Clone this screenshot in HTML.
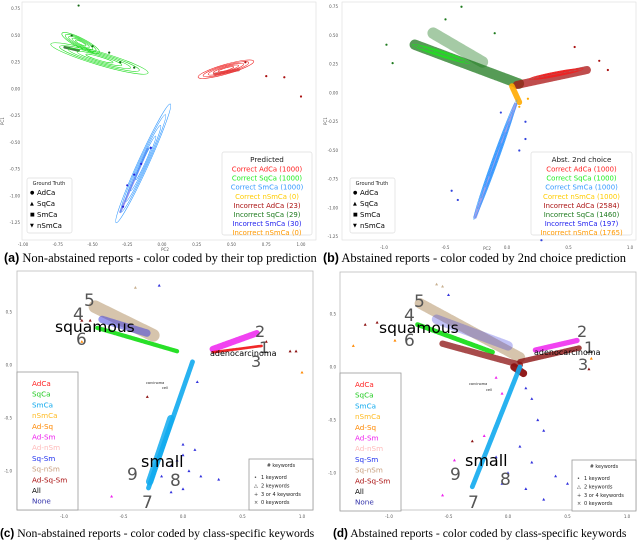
<!DOCTYPE html>
<html><head><meta charset="utf-8">
<style>
html,body{margin:0;padding:0;background:#fff;}
svg{display:block;font-family:"DejaVu Sans","Liberation Sans",sans-serif;}
.cap{font-family:"Liberation Serif",serif;font-size:12.5px;fill:#000;}
.cap2{font-family:"Liberation Serif",serif;font-size:11.7px;fill:#000;}
.capb{font-family:"Liberation Sans",sans-serif;font-weight:bold;}
.tick{font-size:4px;fill:#555;}
</style></head>
<body>
<svg id="fig" width="640" height="541" viewBox="0 0 640 541" xmlns="http://www.w3.org/2000/svg">
  <g id="pa">
    <rect x="22" y="2" width="294" height="238" fill="#fff" stroke="#ddd" stroke-width="0.6"/>
  </g>
  <g id="pb">
    <rect x="342" y="2" width="294" height="238" fill="#fff" stroke="#ddd" stroke-width="0.6"/>
  </g>
  <g id="pc">
    <rect x="17" y="271" width="296" height="239" fill="#fff" stroke="#bbb" stroke-width="0.8"/>
  </g>
  <g id="pd">
    <rect x="340" y="272" width="296" height="238" fill="#fff" stroke="#bbb" stroke-width="0.8"/>
  </g>
  <text class="cap" x="4" y="262"><tspan class="capb">(a)</tspan> Non-abstained reports - color coded by their top prediction</text>
  <text class="cap" x="323" y="262"><tspan class="capb">(b)</tspan> Abstained reports - color coded by 2nd choice prediction</text>
  <text class="cap2" x="0" y="537"><tspan class="capb">(c)</tspan> Non-abstained reports - color coded by class-specific keywords</text>
  <text class="cap2" x="333" y="537"><tspan class="capb">(d)</tspan> Abstained reports - color coded by class-specific keywords</text>
</svg>
<script>
const NS="http://www.w3.org/2000/svg";
// ---- data arrays ----
const ticksA_x=["-1.00","-0.75","-0.50","-0.25","0.00","0.25","0.50","0.75","1.00"];
const ticksA_y=["0.75","0.50","0.25","0.00","-0.25","-0.50","-0.75","-1.00","-1.25"];
const ticksB_x=["-1.0","-0.5","0.0","0.5","1.0"];
const ticksB_y=["0.75","0.50","0.25","0.00","-0.25","-0.50","-0.75","-1.00","-1.25"];
const ticksCD_x=["-1.0","-0.5","0.0","0.5","1.0"];
const ticksCD_y=["0.5","0.0","-0.5","-1.0"];
// contours: [x1,y1,x2,y2,width,color]
const contoursA=[[-0.8,0.42,-0.1,0.15,0.12,"#22dd22"],[-0.72,0.52,-0.45,0.34,0.09,"#22dd22"],[0.26,0.11,0.66,0.26,0.09,"#ee2222"],[-0.33,-1.25,0.06,-0.14,0.1,"#3399ff"]];
const contoursB=[[-0.77,0.42,-0.3,0.26,0.05,"#22dd22"],[0.18,0.12,0.62,0.21,0.04,"#ee2222"],[-0.27,-1.1,0.08,-0.06,0.05,"#3399ff"]];
// dense clouds: [x1,y1,x2,y2,width,color,opacity]
const bandsA=[[-0.7,0.39,-0.6,0.36,0.025,"#116611",0.8],[0.38,0.14,0.55,0.18,0.03,"#aa1111",0.5],[-0.3,-1.15,-0.1,-0.55,0.02,"#2222dd",0.5]];
const bandsB=[[-0.75,0.42,0.1,0.08,0.09,"#1d7a1d",0.75],[-0.6,0.52,-0.2,0.27,0.1,"#1d7a1d",0.4],[0.08,0.07,0.65,0.2,0.07,"#aa1111",0.75],[0.04,0.06,0.1,-0.08,0.05,"#ffaa00",0.9],[0.07,-0.1,-0.26,-1.08,0.03,"#3344dd",0.5]];
const bandsC=[[-0.74,0.55,-0.25,0.28,0.12,"#c8b090",0.75],[-0.68,0.43,-0.3,0.3,0.07,"#3333dd",0.5],[-0.72,0.35,-0.05,0.13,0.04,"#11dd11",0.9],[0.25,0.15,0.62,0.3,0.06,"#ee22ee",0.85],[0.25,0.12,0.66,0.18,0.025,"#ee1111",0.9],[-0.29,-1.16,0.08,0.03,0.045,"#11aaee",0.9],[-0.28,-1.1,-0.1,-0.5,0.07,"#11aaee",0.85]];
const bandsD=[[-0.74,0.6,0.1,0.09,0.1,"#c8b090",0.75],[-0.6,0.45,0.0,0.2,0.09,"#3333dd",0.3],[-0.76,0.4,-0.13,0.14,0.045,"#11dd11",0.9],[-0.55,0.22,0.1,0.02,0.06,"#8b1010",0.75],[0.1,0.05,0.6,0.18,0.05,"#8b1010",0.8],[0.05,0.0,0.13,-0.06,0.07,"#8b1010",0.95],[0.23,0.16,0.58,0.25,0.05,"#ee22ee",0.85],[-0.3,-1.13,0.1,0.0,0.045,"#11aaee",0.9]];
// scatter points: [x,y,color]
const ptsA=[[-0.6,0.78,"#116611"],[-0.65,0.5,"#116611"],[-0.5,0.4,"#116611"],[-0.38,0.34,"#116611"],[-0.3,0.25,"#116611"],[-0.2,0.2,"#116611"],[0.75,0.12,"#aa1111"],[0.88,0.11,"#aa1111"],[1.0,-0.07,"#aa1111"],[0.6,0.25,"#aa1111"],[-0.25,-0.9,"#2222dd"],[-0.2,-0.8,"#2222dd"],[-0.15,-0.7,"#2222dd"],[-0.08,-0.55,"#2222dd"],[-0.28,-1.1,"#2222dd"]];
const ptsB=[[-0.98,0.42,"#1d7a1d"],[-0.93,0.26,"#1d7a1d"],[-0.5,0.64,"#1d7a1d"],[-0.37,0.75,"#1d7a1d"],[-0.1,0.52,"#1d7a1d"],[0.55,0.4,"#aa1111"],[0.75,0.28,"#aa1111"],[0.82,0.2,"#aa1111"],[0.1,-0.12,"#ffaa00"],[0.17,-0.05,"#ffaa00"],[-0.45,-0.85,"#3344dd"],[-0.4,-0.93,"#3344dd"],[-0.05,-0.17,"#3344dd"],[0.15,-0.25,"#3344dd"],[0.15,-0.4,"#3344dd"],[0.1,-0.5,"#3344dd"],[0.28,-1.28,"#3344dd"]];
const ptsC=[[-0.2,0.75,"#3333dd"],[-0.4,0.73,"#c8b090"],[-0.85,0.42,"#8b1010"],[-0.78,0.42,"#8b1010"],[-0.85,0.22,"#ff8800"],[0.95,0.13,"#8b1010"],[0.9,0.13,"#8b1010"],[1.0,-0.07,"#ff8800"],[0.7,0.22,"#8b1010"],[-0.3,-0.3,"#8b1010"],[0.12,-0.16,"#3333dd"],[0.1,-0.8,"#3333dd"],[0.0,-0.85,"#3333dd"],[-0.1,-0.95,"#3333dd"],[0.05,-1.0,"#3333dd"],[0.15,-1.05,"#3333dd"],[-0.18,-1.05,"#3333dd"],[-0.1,-1.2,"#3333dd"],[0.0,-1.17,"#3333dd"],[0.3,-1.08,"#3333dd"],[-0.6,-1.24,"#ee22ee"],[-0.05,-0.9,"#3333dd"],[0.0,-0.75,"#3333dd"]];
const ptsD=[[-1.3,0.2,"#ff8800"],[-1.2,0.4,"#8b1010"],[-1.1,0.42,"#8b1010"],[-0.95,0.25,"#ff8800"],[-0.6,0.78,"#c8b090"],[-0.55,0.76,"#c8b090"],[-0.5,0.68,"#3333dd"],[0.7,0.08,"#ff8800"],[0.68,-0.02,"#8b1010"],[-0.1,-0.1,"#ee22ee"],[-0.05,-0.25,"#ee22ee"],[-0.3,-0.7,"#8b1010"],[0.15,-0.2,"#3333dd"],[0.2,-0.3,"#3333dd"],[0.25,-0.5,"#3333dd"],[0.3,-0.6,"#3333dd"],[0.1,-0.75,"#3333dd"],[0.2,-0.9,"#3333dd"],[-0.1,-0.85,"#3333dd"],[0.0,-1.0,"#3333dd"],[0.4,-1.03,"#3333dd"],[0.5,-1.1,"#3333dd"],[0.3,-1.25,"#3333dd"],[-0.2,-0.65,"#ee22ee"],[-0.45,-0.88,"#ee22ee"],[-0.55,-1.21,"#ee22ee"],[-0.05,-1.1,"#3333dd"],[0.15,-1.15,"#3333dd"]];
const legA=[["Correct AdCa (1000)","#ff2222"],["Correct SqCa (1000)","#22ee22"],["Correct SmCa (1000)","#3399ff"],["Correct nSmCa (0)","#ffcc00"],["Incorrect AdCa (23)","#aa1111"],["Incorrect SqCa (29)","#1d7a1d"],["Incorrect SmCa (30)","#2222ee"],["Incorrect nSmCa (0)","#ff9900"]];
const legB=[["Correct AdCa (1000)","#ff2222"],["Correct SqCa (1000)","#22ee22"],["Correct SmCa (1000)","#3399ff"],["Correct nSmCa (1000)","#ffcc00"],["Incorrect AdCa (2584)","#aa1111"],["Incorrect SqCa (1460)","#1d7a1d"],["Incorrect SmCa (197)","#2222ee"],["Incorrect nSmCa (1765)","#ff9900"]];
const gtLabels=["AdCa","SqCa","SmCa","nSmCa"];
const gtMarks=["●","▲","■","▼"];
const kwLabels=["AdCa","SqCa","SmCa","nSmCa","Ad-Sq","Ad-Sm","Ad-nSm","Sq-Sm","Sq-nSm","Ad-Sq-Sm","All","None"];
const kwColors=["#ff2222","#22cc22","#11aaee","#ffbb22","#ff8800","#ee22ee","#ffbbbb","#2233ee","#c8a080","#aa1111","#000000","#3333aa"];
const kwCount=["1 keyword","2 keywords","3 or 4 keywords","0 keywords"];
const kwMarks=["•","△","+","×"];

function el(tag,attrs,parent,txt){const e=document.createElementNS(NS,tag);for(const k in attrs)e.setAttribute(k,attrs[k]);if(txt!==undefined)e.textContent=txt;parent.appendChild(e);return e;}
function mkAxis(x0,y0,sx,sy){return {X:v=>x0+v*sx,Y:v=>y0-v*sy,sx:sx,sy:sy};}
const axA=mkAxis(162,89,139,107), axB=mkAxis(507,93,123,115), axC=mkAxis(183,365,119,106), axD=mkAxis(508,367,119,106);

function drawContours(g,ax,list,name){
  list.forEach(c=>{
    const x1=ax.X(c[0]),y1=ax.Y(c[1]),x2=ax.X(c[2]),y2=ax.Y(c[3]);
    const cx=(x1+x2)/2,cy=(y1+y2)/2,len=Math.hypot(x2-x1,y2-y1)/2,ang=Math.atan2(y2-y1,x2-x1)*180/Math.PI;
    const w=c[4]*ax.sy/2;
    [1,0.82,0.64,0.46,0.28].forEach(f=>{
      const e=el("ellipse",{cx:cx,cy:cy,rx:len*f,ry:w*f,transform:`rotate(${ang} ${cx} ${cy})`,fill:"none",stroke:c[5],"stroke-width":0.6},g);
      
      
    });
  });
}
function drawBands(g,ax,list,name){
  list.forEach(b=>{
    const l=el("line",{x1:ax.X(b[0]),y1:ax.Y(b[1]),x2:ax.X(b[2]),y2:ax.Y(b[3]),stroke:b[5],"stroke-opacity":b[6],"stroke-width":b[4]*ax.sy,"stroke-linecap":"round","stroke-dasharray":"2 0.8"},g);
    
    
  });
}
function drawPts(g,ax,list,name,tri){
  list.forEach(p=>{
    let m;
    if(tri){const x=ax.X(p[0]),y=ax.Y(p[1]);m=el("polygon",{points:`${x},${y-1.6} ${x-1.5},${y+1.1} ${x+1.5},${y+1.1}`,fill:p[2]},g);}
    else m=el("circle",{cx:ax.X(p[0]),cy:ax.Y(p[1]),r:1.1,fill:p[2]},g);
    
    
  });
}
function ticks(g,xs,xpos,ys,ypos,xy,yx,name){
  xs.forEach((t,i)=>{const e=el("text",{class:"tick",x:xpos(i),y:xy,"text-anchor":"middle"},g,t);});
  ys.forEach((t,i)=>{const e=el("text",{class:"tick",x:yx,y:ypos(i)+1.4,"text-anchor":"end"},g,t);});
}
function txt(g,x,y,s,attrs,name){const a=Object.assign({x:x,y:y},attrs);const e=el("text",a,g,s);return e;}

const pa=document.getElementById("pa"),pb=document.getElementById("pb"),pc=document.getElementById("pc"),pd=document.getElementById("pd");
ticks(pa,ticksA_x,i=>axA.X(-1+i*0.25),ticksA_y,i=>axA.Y(0.75-i*0.25),246,20,"a");
txt(pa,165,251,"PC2",{class:"tick","text-anchor":"middle"},"x-axis-title-a");
txt(pa,4,125,"PC1",{class:"tick",transform:"rotate(-90 4 125)"},"y-axis-title-a");
drawBands(pa,axA,bandsA,"a");
drawContours(pa,axA,contoursA,"a");
drawPts(pa,axA,ptsA,"a",false);
ticks(pb,ticksB_x,i=>axB.X(-1+i*0.5),ticksB_y,i=>axB.Y(0.75-i*0.25),249,338,"b");
txt(pb,487,250,"PC2",{class:"tick","text-anchor":"middle"},"x-axis-title-b");
txt(pb,327,125,"PC1",{class:"tick",transform:"rotate(-90 327 125)"},"y-axis-title-b");
drawBands(pb,axB,bandsB,"b");
drawContours(pb,axB,contoursB,"b");
drawPts(pb,axB,ptsB,"b",false);
ticks(pc,ticksCD_x,i=>axC.X(-1+i*0.5),ticksCD_y,i=>axC.Y(0.5-i*0.5),518,12,"c");
drawBands(pc,axC,bandsC,"c");
drawPts(pc,axC,ptsC,"c",true);
ticks(pd,ticksCD_x,i=>axD.X(-1+i*0.5),ticksCD_y,i=>axD.Y(0.5-i*0.5),518,336,"d");
drawBands(pd,axD,bandsD,"d");
drawPts(pd,axD,ptsD,"d",true);

function predLegend(g,x,y,w,h,title,items,name){
  const r=el("rect",{x:x,y:y,width:w,height:h,fill:"#fff",stroke:"#ddd","stroke-width":0.7,rx:2},g);
  
  txt(g,x+w/2,y+10,title,{"font-size":"7.2px","text-anchor":"middle",fill:"#222"},name+"-title");
  items.forEach((it,i)=>txt(g,x+w/2,y+19.5+i*9.1,it[0],{"font-size":"6.9px","text-anchor":"middle",fill:it[1]},name+"-entry"));
}
function gtLegend(g,x,y,name){
  const r=el("rect",{x:x,y:y,width:45,height:55,fill:"#fff",stroke:"#ddd","stroke-width":0.7,rx:2},g);
  
  txt(g,x+22,y+7,"Ground Truth",{"font-size":"5px","text-anchor":"middle",fill:"#222"},name+"-title");
  gtLabels.forEach((l,i)=>{txt(g,x+3,y+16+i*11,gtMarks[i],{"font-size":"5px",fill:"#000"},name+"-marker");txt(g,x+10,y+17+i*11,l,{"font-size":"7px",fill:"#000"},name+"-entry");});
}
predLegend(pa,222,152,90,83,"Predicted",legA,"legend-predicted-a");
gtLegend(pa,27,178,"legend-ground-truth-a");
predLegend(pb,531,152,101,83,"Abst. 2nd choice",legB,"legend-2nd-choice-b");
gtLegend(pb,350,178,"legend-ground-truth-b");

function kwPanel(g,ox,oy,name,lab){
  const r=el("rect",{x:ox,y:oy+101,width:61,height:138,fill:"#fff",stroke:"#999","stroke-width":0.8},g);
  
  kwLabels.forEach((l,i)=>txt(g,ox+15,oy+115+i*10.7,l,{"font-size":"7.2px",fill:kwColors[i]},name+"-class-legend-entry"));
  const r2=el("rect",{x:ox+232,y:oy+188,width:64,height:51,fill:"#fff",stroke:"#999","stroke-width":0.8},g);
  
  txt(g,ox+264,oy+196,"# keywords",{"font-size":"4.8px","text-anchor":"middle",fill:"#222"},name+"-keyword-legend-title");
  kwCount.forEach((l,i)=>{txt(g,ox+237,oy+208+i*8.4,kwMarks[i],{"font-size":"5px",fill:"#444"},name+"-keyword-marker");txt(g,ox+244,oy+208+i*8.4,l,{"font-size":"5px",fill:"#222"},name+"-keyword-entry");});
  lab.forEach(a=>txt(g,a[0],a[1],a[2],{"font-size":a[3]+"px",fill:a[4]},name+"-annotation"));
}
const annC=[[84,306,"5",17,"#555"],[73,320,"4",17,"#555"],[55,332,"squamous",15.5,"#000"],[76,345,"6",17,"#555"],[255,337,"2",16,"#555"],[259,353,"1",16,"#555"],[251,367,"3",16,"#555"],[210,356,"adenocarcinoma",8,"#000"],[146,384,"carcinoma",3.5,"#222"],[162,389,"cell",3.5,"#222"],[141,467,"small",16,"#000"],[127,480,"9",17,"#555"],[170,486,"8",17,"#555"],[142,508,"7",17,"#555"]];
const annD=[[414,307,"5",17,"#555"],[404,321,"4",17,"#555"],[379,333,"squamous",15.5,"#000"],[404,346,"6",17,"#555"],[577,337,"2",16,"#555"],[584,353,"1",16,"#555"],[578,370,"3",16,"#555"],[534,355,"adenocarcinoma",8,"#000"],[469,385,"carcinoma",3.5,"#222"],[486,391,"cell",3.5,"#222"],[465,466,"small",16,"#000"],[450,480,"9",17,"#555"],[500,485,"8",17,"#555"],[468,508,"7",17,"#555"]];
kwPanel(pc,17,271,"c",annC);
kwPanel(pd,340,272,"d",annD);
</script>
</body></html>
